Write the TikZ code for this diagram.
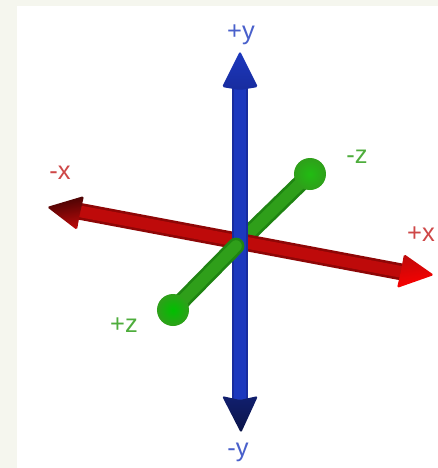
\documentclass[tikz,border=0pt]{standalone}
\usepackage{fontspec}
\setmainfont{Liberation Sans}
\definecolor{pagegrey}{HTML}{F5F6EE}
\definecolor{redlo}{HTML}{8E0606}
\definecolor{redmid}{HTML}{BE0A0A}
\definecolor{greenlo}{HTML}{1F8412}
\definecolor{greenmid}{HTML}{2F9F1A}
\definecolor{bluelo}{HTML}{182C9E}
\definecolor{bluemid}{HTML}{1C38BE}
\tikzset{
  shaftlo/.style={line width=9.6pt},
  shaftmid/.style={line width=6.6pt},
  headtip/.style={rounded corners=1pt},
  axislabel/.style={font=\fontsize{14.5}{17}\selectfont,inner sep=0pt},
}
\begin{document}
\begin{tikzpicture}[x=0.02cm,y=-0.02cm]
\useasboundingbox (0,0) rectangle (438,468);
\fill[pagegrey] (0,0) rectangle (438,468);
\fill[white] (17,6) rectangle (438,468);
\coordinate (c) at (240,242);
\coordinate (ytop) at (240,86);
\coordinate (ybot) at (240,400);
\coordinate (xneg) at (78,211);
\coordinate (xpos) at (402,272);
\coordinate (zneg) at (310,174);
\coordinate (zpos) at (173,310);
\coordinate (zfront) at (236,246);
% back half of z
\draw[greenlo,shaftlo] (c)--(zneg);
\draw[greenmid,shaftmid] (c)--(zneg);
\shade[inner color=greenmid!70!green,outer color=greenmid] (zneg) circle (16);
% x axis
\draw[redlo,shaftlo] (xneg)--(xpos);
\draw[redmid,shaftmid] (xneg)--(xpos);
\shade[headtip,left color=redlo!45!black,right color=redmid,shading angle=10]
  (47,207)--(84,196)--(80,213)--(77,230)--cycle;
\shade[headtip,left color=redmid,right color=red,shading angle=10]
  (434,275)--(404,254)--(401,271)--(397,288)--cycle;
% y axis
\draw[bluelo,shaftlo] (ytop)--(ybot);
\draw[bluemid,shaftmid] (ytop)--(ybot);
\shade[headtip,top color=bluemid,bottom color=bluelo]
  (240,51)--(258,87)--(240,90)--(222,87)--cycle;
\shade[headtip,top color=bluelo!70!black,bottom color=bluelo!45!black]
  (241,433)--(258,396)--(240,400)--(222,396)--cycle;
% front half of z
\draw[greenlo,shaftlo,line cap=round] (zfront)--(zpos);
\draw[greenmid,shaftmid,line cap=round] (zfront)--(zpos);
\shade[inner color=green!75!black,outer color=greenmid] (zpos) circle (16);
\node[axislabel,text=bluemid!80] (ppy) at (241,35) {+y};
\node[axislabel,text=bluemid!80] (mmy) at (238,452) {-y};
\node[axislabel,text=redmid!75] (mmx) at (60,173) {-x};
\node[axislabel,text=redmid!75] (ppx) at (421,234) {+x};
\node[axislabel,text=greenmid!85] (mmz) at (357,157) {-z};
\node[axislabel,text=greenmid!85] (ppz) at (124,325) {+z};
\end{tikzpicture}
\end{document}
